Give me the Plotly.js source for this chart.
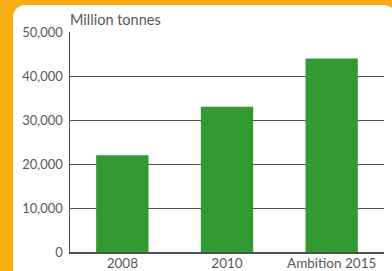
<!DOCTYPE html>
<html>
<head>
<meta charset="utf-8">
<script src="https://cdn.plot.ly/plotly-3.0.1.min.js"></script>
<style>
  html, body { margin: 0; padding: 0; width: 392px; height: 271px; overflow: hidden; background: #F8AE12; }
  #panel { position: absolute; left: 13px; top: 5px; width: 383px; height: 300px; background: #ffffff; border-radius: 12px; }
  #chart { position: absolute; left: 0; top: 0; width: 392px; height: 271px; }
</style>
</head>
<body>
<div id="panel"></div>
<div id="chart"></div>
<script>
const categories = ['2008', '2010', 'Ambition 2015'];
const values = [22000, 33000, 44000];
const tickValues = [0, 10000, 20000, 30000, 40000, 50000];
const tickLabels = ['0', '10,000', '20,000', '30,000', '40,000', '50,000'];
const gridValues = [10000, 20000, 30000, 40000];
const unitLabel = 'Million tonnes';

const textColor = '#595959';
const fam = 'Lato, "Open Sans", sans-serif';
const yFont = { family: fam, size: 13, color: textColor };
const xFont = { family: fam, size: 13.5, color: textColor };
const titleFont = { family: fam, size: 14.5, color: textColor };

const data = [
  { type: 'bar', x: categories, y: values, marker: { color: '#339933' }, hoverinfo: 'skip' },
  { type: 'scatter', x: categories, y: values, yaxis: 'y2', mode: 'markers', marker: { opacity: 0 }, hoverinfo: 'skip', showlegend: false }
];

const layout = {
  width: 392, height: 271,
  margin: { l: 70, r: 8, t: 32, b: 19 },
  paper_bgcolor: 'rgba(0,0,0,0)',
  plot_bgcolor: 'rgba(0,0,0,0)',
  font: yFont,
  showlegend: false,
  bargap: 0.5,
  xaxis: {
    type: 'category',
    showline: true, linecolor: '#505050', linewidth: 1.5,
    showgrid: false, ticks: '', ticklabelstandoff: -2, tickfont: xFont, fixedrange: true
  },
  yaxis: {
    range: [0, 50000],
    tickvals: tickValues, ticktext: tickLabels,
    showline: true, linecolor: '#505050', linewidth: 1.5,
    showgrid: false, zeroline: false, ticks: '', ticklabelstandoff: 3, tickfont: yFont, fixedrange: true
  },
  yaxis2: {
    overlaying: 'y', range: [0, 50000],
    tickvals: gridValues, showticklabels: false,
    showgrid: true, gridcolor: '#555555', gridwidth: 1,
    zeroline: false, showline: false, ticks: '', fixedrange: true
  },
  annotations: [{
    text: unitLabel, xref: 'paper', yref: 'paper', x: 0, y: 1,
    xanchor: 'left', yanchor: 'bottom', xshift: -2, yshift: 2, showarrow: false, font: titleFont
  }]
};

Plotly.newPlot('chart', data, layout, { displayModeBar: false, staticPlot: true });
</script>
</body>
</html>
